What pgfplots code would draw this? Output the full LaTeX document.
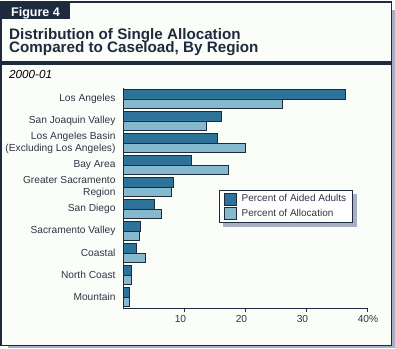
\documentclass[border=0pt]{standalone}
\usepackage{pgfplots}
\pgfplotsset{compat=1.18}
\usepackage{fontspec}
\setmainfont{Liberation Sans}
\definecolor{navy}{HTML}{1E2B3E}
\definecolor{darkbar}{HTML}{2D7399}
\definecolor{lightbar}{HTML}{86B8CE}
\definecolor{labelc}{HTML}{2F3645}
\definecolor{shadowc}{HTML}{A8AEC4}
\definecolor{bgc}{HTML}{FBFDF9}
\pgfdeclarelayer{framelayer}
\pgfdeclarelayer{shadowlayer}
\pgfsetlayers{framelayer,shadowlayer,main}
\pgfplotsset{sqlegend/.style={legend image code/.code={\draw[#1,draw=navy,line width=0.8pt] (0pt,-6pt) rectangle (12pt,6pt);}}}
\begin{document}
\begin{tikzpicture}[x=1pt,y=1pt]
\useasboundingbox (0,0) rectangle (395,348);
\begin{pgfonlayer}{framelayer}
\fill[shadowc] (8,0) rectangle (395,3);
\fill[shadowc] (391,0) rectangle (395,338);
\filldraw[fill=bgc,draw=navy,line width=1.3pt] (1,2.5) rectangle (391.5,346);
\end{pgfonlayer}
\fill[navy] (0.5,283) rectangle (392,287);
\fill[navy] (0.5,346.6) rectangle (70,328.5);
\node[anchor=base west,inner sep=0,text=white,font=\bfseries\fontsize{12.5}{14}\selectfont] at (11,331) {Figure 4};
\node[anchor=base west,inner sep=0,text=navy,font=\bfseries\fontsize{15.2}{17}\selectfont] at (9,308.8) {Distribution of Single Allocation};
\node[anchor=base west,inner sep=0,text=navy,font=\bfseries\fontsize{15.2}{17}\selectfont] at (9,295.6) {Compared to Caseload, By Region};
\node[anchor=base west,inner sep=0,text=black,font=\itshape\fontsize{11.7}{14}\selectfont] at (9,269) {2000-01};
\begin{axis}[
  at={(123pt,40pt)}, anchor=south west,
  scale only axis, width=244pt, height=220pt,
  xbar, bar width=9.5pt,
  xmin=0, xmax=40, ymin=-0.5, ymax=9.5,
  y dir=reverse,
  axis lines*=left,
  axis line style={draw=navy, line width=1pt},
  xtick={10,20,30,40},
  xticklabels={10,20,30,40\rlap{\%}},
  xticklabel style={xshift=-3.5pt},
  tick align=outside, major tick length=4pt,
  xtick style={draw=navy, line width=1pt},
  ytick={0,...,9},
  yticklabels={Los Angeles,San Joaquin Valley,{Los Angeles Basin\\(Excluding Los Angeles)},Bay Area,{Greater Sacramento\\Region},San Diego,Sacramento Valley,Coastal,North Coast,Mountain},
  ytick style={draw=none},
  yticklabel style={align=right, font=\fontsize{10.2}{11.5}\selectfont, text=labelc},
  tick label style={font=\fontsize{10.2}{12}\selectfont, text=labelc},
  /pgf/number format/assume math mode=true,
  legend style={name=leg, at={(0.395,0.536)}, anchor=north west, draw=navy, line width=1pt, fill=white,
    font=\fontsize{10}{12}\selectfont, text=labelc,
    inner xsep=4pt, inner ysep=2pt, row sep=2pt, column sep=3pt},
  legend cell align=left,
]
\addplot[fill=darkbar, draw=navy, line width=0.8pt, bar shift=4.75pt, sqlegend] coordinates {
(36.5,0) (16.2,1) (15.5,2) (11.2,3) (8.25,4) (5.1,5) (2.9,6) (2.2,7) (1.35,8) (1.0,9)};
\addplot[fill=lightbar, draw=navy, line width=0.8pt, bar shift=-4.75pt, sqlegend] coordinates {
(26.1,0) (13.6,1) (20.1,2) (17.3,3) (7.9,4) (6.3,5) (2.7,6) (3.7,7) (1.35,8) (1.0,9)};
\legend{Percent of Aided Adults,Percent of Allocation}
\end{axis}
\begin{pgfonlayer}{shadowlayer}
\fill[shadowc] ([shift={(4pt,-4pt)}]leg.south west) rectangle ([shift={(4pt,-4pt)}]leg.north east);
\end{pgfonlayer}
\end{tikzpicture}
\end{document}
